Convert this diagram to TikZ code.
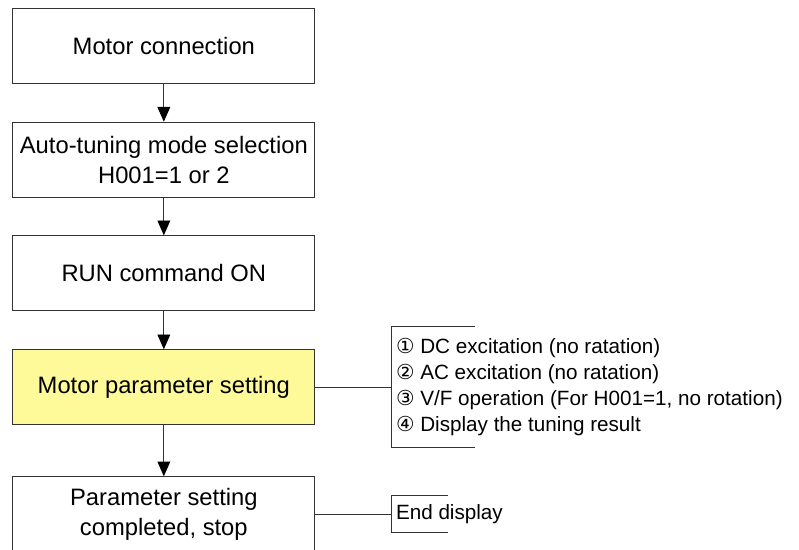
\documentclass[tikz,border=0pt]{standalone}
\usepackage{fontspec}
\setmainfont{Liberation Sans}
\newfontfamily\circfont{DejaVu Sans}
\usetikzlibrary{positioning, arrows.meta}

\begin{document}
\begin{tikzpicture}[
          % Base node styles
          box/.style={rectangle, draw=black!80, line width=0.7pt, align=center, minimum width=7.55cm, minimum height=1.87cm, inner sep=0pt, font=\fontsize{16.9}{21.3}\selectfont},
          % Specific styles based on the image's color scheme
          stepbox/.style={box, fill=white},
          activebox/.style={box, fill=yellow!40},
          % Side note styles
          notebox/.style={rectangle, anchor=west, align=left, inner xsep=0.11cm, inner ysep=0pt, font=\fontsize{14.7}{18.5}\selectfont},
          % Arrow styles
          flow/.style={-{Triangle[length=0.37cm, width=0.32cm, black]}, draw=black!80, line width=0.7pt},
          link/.style={draw=black!80, line width=0.7pt}
        ]
          \clip (0,0) rectangle (19.975,-13.75);

          % ==========================================
          % 1. Main flow
          % ==========================================
          \node[stepbox] (motor_conn) at (4.096,-1.158) {Motor connection};
          \node[stepbox] (mode_sel) at (4.096,-3.99) {Auto-tuning mode selection\\H001=1 or 2};
          \node[stepbox] (run_on) at (4.096,-6.83) {RUN command ON};
          \node[activebox] (motor_param) at (4.096,-9.68) {Motor parameter setting};
          \node[stepbox] (param_done) at (4.096,-12.855) {Parameter setting\\completed, stop};

          % ==========================================
          % 2. Side notes
          % ==========================================
          \node[notebox, minimum height=3.02cm, right=1.9cm of motor_param] (tuning_steps) {%
            {\circfont ①} DC excitation (no ratation)\\
            {\circfont ②} AC excitation (no ratation)\\
            {\circfont ③} V/F operation (For H001=1, no rotation)\\
            {\circfont ④} Display the tuning result};
          \node[notebox, minimum height=0.9cm, right=1.9cm of param_done] (end_disp) {End display};

          % Brackets round the notes
          \draw[link] ([xshift=2.08cm]tuning_steps.north west) -| (tuning_steps.south west) -- ++(2.08cm,0);
          \draw[link] ([xshift=1.415cm]end_disp.north west) -| (end_disp.south west) -- ++(1.415cm,0);

          % ==========================================
          % 3. Edges
          % ==========================================
          \draw[flow] (motor_conn) -- (mode_sel);
          \draw[flow] (mode_sel) -- (run_on);
          \draw[flow] (run_on) -- (motor_param);
          \draw[flow] (motor_param) -- (param_done);

          \draw[link] (motor_param) -- (tuning_steps);
          \draw[link] (param_done) -- (end_disp);
        \end{tikzpicture}
\end{document}
